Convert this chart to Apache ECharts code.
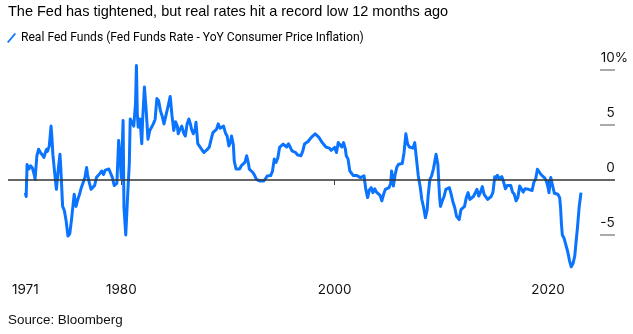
<!DOCTYPE html>
<html><head><meta charset="utf-8">
<script src="https://cdn.jsdelivr.net/npm/echarts@6/dist/echarts.min.js"></script>
<style>html,body{margin:0;padding:0;background:#fff}#c{width:633px;height:334px}</style>
</head><body><div id="c"></div>
<script>
const titleText = 'The Fed has tightened, but real rates hit a record low 12 months ago';
const seriesName = 'Real Fed Funds (Fed Funds Rate - YoY Consumer Price Inflation)';
const sourceText = 'Source: Bloomberg';
const xTickYears = [1971, 1980, 2000, 2020];
const yTickValues = [-5, 0, 5, 10];

const months = [
'1971-01','1971-02','1971-03','1971-05','1971-07','1971-08','1971-09','1971-10','1971-11','1971-12',
'1972-01','1972-02','1972-04','1972-06','1972-08','1972-10','1972-12',
'1973-01','1973-02','1973-04','1973-06','1973-07','1973-08','1973-10','1973-12',
'1974-02','1974-04','1974-05','1974-07','1974-09','1974-11',
'1975-01','1975-03','1975-05','1975-06','1975-08','1975-10','1975-12',
'1976-02','1976-04','1976-06','1976-08','1976-10','1976-11',
'1977-01','1977-03','1977-05','1977-07','1977-09','1977-11',
'1978-01','1978-03','1978-05','1978-07','1978-09','1978-11',
'1979-01','1979-03','1979-05','1979-07','1979-08','1979-10','1979-11','1979-12',
'1980-01','1980-03','1980-04','1980-06','1980-08','1980-10','1980-11',
'1981-01','1981-03','1981-05','1981-06','1981-07','1981-08','1981-10','1981-12',
'1982-01','1982-03','1982-05','1982-07','1982-09','1982-11',
'1983-01','1983-03','1983-05','1983-07','1983-09','1983-11',
'1984-01','1984-03','1984-05','1984-08','1984-10','1984-12',
'1985-02','1985-04','1985-05','1985-07','1985-09','1985-11',
'1986-01','1986-03','1986-05','1986-07','1986-08','1986-10','1986-12',
'1987-01','1987-03','1987-06','1987-08','1987-10','1987-12',
'1988-02','1988-04','1988-06','1988-08','1988-10','1988-12',
'1989-02','1989-04','1989-06','1989-08','1989-10','1989-12',
'1990-02','1990-04','1990-05','1990-07','1990-08','1990-10','1990-12',
'1991-02','1991-04','1991-06','1991-08','1991-10','1991-12',
'1992-01','1992-03','1992-05','1992-07','1992-09','1992-11',
'1993-01','1993-03','1993-05','1993-07','1993-09','1993-11',
'1994-01','1994-03','1994-05','1994-07','1994-09','1994-11',
'1995-01','1995-03','1995-05','1995-07','1995-09','1995-11',
'1996-01','1996-03','1996-05','1996-07','1996-09','1996-11',
'1997-01','1997-03','1997-05','1997-07','1997-09','1997-11',
'1998-01','1998-03','1998-05','1998-07','1998-09','1998-11',
'1999-01','1999-03','1999-05','1999-07','1999-09','1999-11',
'2000-01','2000-03','2000-05','2000-07','2000-09','2000-11',
'2001-01','2001-02','2001-04','2001-06','2001-08','2001-10','2001-12',
'2002-02','2002-04','2002-06','2002-08','2002-10','2002-12',
'2003-02','2003-04','2003-06','2003-08','2003-10','2003-12',
'2004-02','2004-04','2004-06','2004-08','2004-10','2004-12',
'2005-02','2005-04','2005-05','2005-07','2005-09','2005-11',
'2006-01','2006-03','2006-05','2006-07','2006-09','2006-11',
'2007-01','2007-03','2007-05','2007-07','2007-09','2007-11',
'2008-01','2008-03','2008-05','2008-07','2008-09','2008-10','2008-12',
'2009-02','2009-04','2009-05','2009-07','2009-09','2009-11','2009-12',
'2010-02','2010-04','2010-06','2010-08','2010-10','2010-12',
'2011-02','2011-04','2011-06','2011-09','2011-11',
'2012-01','2012-03','2012-05','2012-07','2012-09','2012-11',
'2013-01','2013-03','2013-05','2013-07','2013-09','2013-11',
'2014-01','2014-03','2014-05','2014-07','2014-09','2014-11',
'2015-01','2015-02','2015-04','2015-06','2015-09','2015-11',
'2016-01','2016-03','2016-05','2016-07','2016-09','2016-11',
'2017-01','2017-03','2017-05','2017-07','2017-09','2017-11',
'2018-01','2018-03','2018-05','2018-07','2018-09','2018-11',
'2019-01','2019-03','2019-05','2019-07','2019-09','2019-11',
'2020-01','2020-02','2020-04','2020-06','2020-08','2020-10','2020-12',
'2021-02','2021-03','2021-04','2021-05','2021-07','2021-09','2021-11',
'2022-01','2022-03','2022-05','2022-07','2022-08','2022-10','2022-12',
'2023-01','2023-02'
];
const realRate = [
-1.15,-1.5,1.4,1.0,1.3,1.45,1.1,1.1,0.5,0.06,
0.2,2.2,2.8,2.5,2.3,2.05,2.6,
2.8,2.6,3.1,4.9,3.8,2.35,0.7,-0.85,
0.9,2.35,1.0,-2.4,-2.8,-3.75,
-5.1,-4.9,-3.6,-2.8,-1.3,-2.4,-1.8,
-1.3,-0.7,-0.24,0.2,1.13,0.5,
-0.24,-0.85,-0.8,-0.5,0.22,0.3,
0.6,0.82,0.5,0.9,1.0,1.0,
0.9,0.22,-0.5,-0.5,-0.3,3.6,2.6,1.5,
0.2,5.4,-2.5,-5.0,-1.6,1.5,5.55,
5.7,4.9,7.0,10.4,6.0,4.8,5.55,3.3,
5.5,8.45,6.3,3.7,4.5,4.8,
5.1,5.5,7.4,7.2,6.3,5.8,
5.1,5.8,6.5,7.6,5.85,4.5,
5.3,4.9,4.2,4.6,4.9,4.3,
4.0,5.1,5.55,5.0,4.6,4.2,4.6,
5.25,3.3,2.95,2.7,2.5,2.6,
2.8,3.0,3.7,4.3,4.3,4.6,
5.1,4.7,4.6,4.9,4.3,4.0,
3.1,3.5,4.0,3.2,1.74,1.0,1.0,
1.0,1.3,1.2,1.6,2.2,1.5,
0.98,1.1,0.68,0.4,0.06,0.1,
-0.1,-0.05,-0.1,0.1,0.37,0.4,
0.4,0.8,1.9,1.6,2.0,2.96,
3.0,3.27,3.2,3.0,3.3,3.27,
2.65,2.6,2.5,2.3,2.3,2.2,
2.6,3.27,3.3,3.5,3.7,3.9,
4.0,4.2,4.1,3.9,3.8,3.4,
3.2,3.0,3.1,2.9,2.7,2.8,
2.96,2.5,3.4,3.2,3.0,3.4,
2.8,2.2,1.9,0.82,0.9,0.4,0.37,
0.4,0.3,0.22,0.3,0.37,-0.85,
-1.6,-0.9,-0.7,-1.15,-0.8,-1.1,
-1.0,-1.4,-1.9,-1.3,-0.85,-0.8,
-0.7,-0.3,0.82,-0.55,0.52,1.2,
1.44,1.3,1.5,2.5,4.2,3.27,
3.0,3.1,2.9,3.4,3.3,0.37,
-0.55,-1.77,-2.5,-3.44,-2.7,-1.5,0.06,
0.37,1.0,1.44,2.35,1.44,-1.6,-2.4,
-1.9,-1.5,-0.85,-0.9,-0.7,-1.3,
-2.0,-2.5,-3.3,-3.6,-2.7,
-2.6,-2.4,-1.6,-1.15,-1.77,-1.6,
-1.5,-1.4,-0.85,-1.46,-1.1,-0.6,
-1.3,-1.4,-1.77,-1.9,-1.5,-1.1,
0.3,0.1,0.43,0.1,0.3,-0.2,
-0.8,-0.5,-0.65,-0.5,-1.1,-1.3,
-1.9,-1.6,-0.55,-0.6,-1.1,-0.8,
-0.7,-0.85,-1.0,-0.95,-0.2,0.1,
0.98,0.9,0.5,0.6,0.2,-0.1,
-0.7,-1.15,0.22,-0.5,-1.2,-1.1,-1.3,
-1.6,-2.5,-4.0,-5.0,-5.3,-5.3,-6.5,
-7.3,-7.9,-7.6,-6.9,-6.0,-4.35,-2.4,
-1.77,-1.15
];

function toYear(s) { const p = s.split('-').map(Number); return p[0] + (p[1] - 1) / 12; }
const seriesData = months.map((m, i) => [toYear(m), realRate[i]]);

const LINE = '#0a74ff';
const chart = echarts.init(document.getElementById('c'), null, { renderer: 'canvas' });
chart.setOption({
  animation: false,
  backgroundColor: '#fff',
  title: [
    { text: titleText, left: 8, top: 4, padding: 0,
      textStyle: { fontFamily: 'Liberation Sans', fontSize: 14.5, fontWeight: 'normal', color: '#000' } },
    { text: sourceText, left: 8, top: 314, padding: 0,
      textStyle: { fontFamily: 'Liberation Sans', fontSize: 13.4, fontWeight: 'normal', color: '#111' } }
  ],
  legend: {
    left: 7, top: 32, padding: 0, itemGap: 5, itemWidth: 9, itemHeight: 11,
    data: [{ name: seriesName, icon: 'path://M0,10 L8.4,0 L10,1.2 L1.6,11.2 Z' }],
    textStyle: { fontFamily: 'Roboto', fontSize: 12.1, color: '#000', padding: [0, 0, 0, 0] }
  },
  grid: { left: 8, right: 18, top: 70, bottom: 66, containLabel: false },
  xAxis: {
    type: 'value', min: 1969.38, max: 2026.27,
    axisLine: { show: false }, splitLine: { show: false },
    axisTick: { show: true, customValues: xTickYears, length: 5, lineStyle: { color: '#444', width: 1 } },
    axisLabel: { customValues: xTickYears, formatter: v => String(v), margin: 15,
      fontFamily: 'Inter', fontSize: 13.5, color: '#111' }
  },
  yAxis: {
    type: 'value', position: 'right', min: -8, max: 10,
    axisLine: { show: false }, splitLine: { show: false },
    axisTick: { show: true, inside: true, length: 15, customValues: [-5, 5, 10],
      lineStyle: { color: '#aaa', width: 2 } },
    axisLabel: {
      customValues: yTickValues, margin: 13, align: 'right', verticalAlign: 'bottom',
      padding: [0, 0, 5, 0], lineHeight: 15,
      fontFamily: 'Inter', fontSize: 13.5, color: '#111',
      formatter: v => v === 10 ? '10%' : v + '{h|%}',
      rich: { h: { fontFamily: 'Inter', fontSize: 13.5, color: 'rgba(0,0,0,0)', lineHeight: 15 } }
    }
  },
  series: [{
    type: 'line', name: seriesName, data: seriesData,
    showSymbol: false, symbol: 'none', clip: false,
    lineStyle: { color: LINE, width: 3, join: 'round' }, itemStyle: { color: LINE },
    markLine: {
      silent: true, symbol: ['none', 'none'], label: { show: false },
      lineStyle: { color: '#333', width: 1.5, type: 'solid' },
      data: [{ yAxis: 0 }]
    }
  }]
});
</script></body></html>
